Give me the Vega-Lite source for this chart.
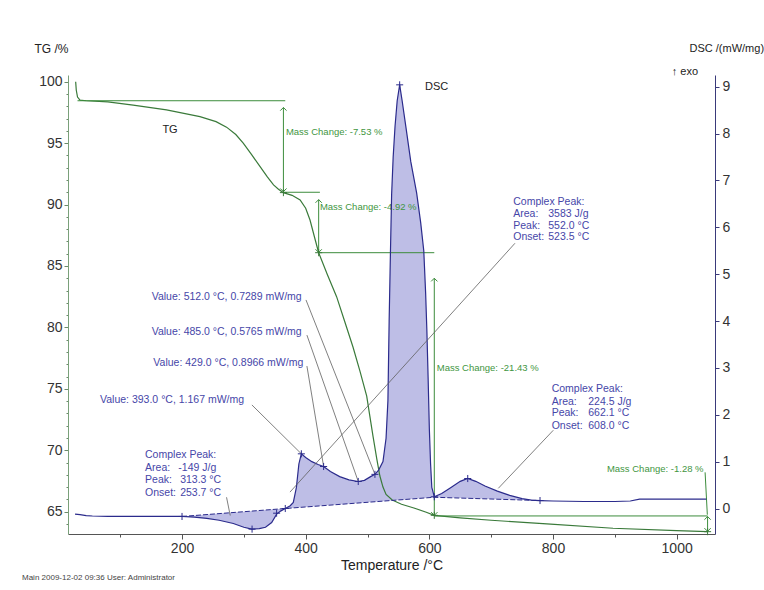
{
  "$schema": "https://vega.github.io/schema/vega-lite/v6.json",
  "width": 647,
  "height": 459,
  "autosize": {"type": "none"},
  "padding": {"left": 68, "top": 75, "right": 49, "bottom": 56},
  "background": "white",
  "config": {"font": "Liberation Sans", "view": {"stroke": null}, "axis": {"grid": false}},
  "title": {"text": "Main   2009-12-02 09:36   User: Administrator", "orient": "bottom", "anchor": "start", "frame": "group", "fontSize": 8, "fontWeight": "normal", "color": "#444", "dx": -46, "offset": 2},
  "datasets": {
    "tg": [
      {"T": 28, "v": 100.0}, {"T": 29, "v": 99.3}, {"T": 31, "v": 98.75}, {"T": 35, "v": 98.5}, {"T": 45, "v": 98.45},
      {"T": 80, "v": 98.35}, {"T": 121, "v": 98.1}, {"T": 175, "v": 97.7}, {"T": 229, "v": 97.15}, {"T": 255, "v": 96.75},
      {"T": 272, "v": 96.3}, {"T": 287, "v": 95.7}, {"T": 299, "v": 95.0}, {"T": 312, "v": 94.1}, {"T": 326, "v": 93.1},
      {"T": 338, "v": 92.25}, {"T": 348, "v": 91.6}, {"T": 356, "v": 91.25}, {"T": 364, "v": 90.97}, {"T": 378, "v": 90.75},
      {"T": 391, "v": 90.37}, {"T": 400, "v": 89.7}, {"T": 407, "v": 88.74}, {"T": 414, "v": 87.4}, {"T": 421, "v": 86.08},
      {"T": 435, "v": 84.3}, {"T": 450, "v": 82.5}, {"T": 463, "v": 80.5}, {"T": 476.5, "v": 78.4}, {"T": 488, "v": 76.4},
      {"T": 498.7, "v": 74.4}, {"T": 509, "v": 71.1}, {"T": 515, "v": 69.3}, {"T": 520, "v": 67.9}, {"T": 525, "v": 67.0},
      {"T": 530, "v": 66.4}, {"T": 540, "v": 65.95}, {"T": 555, "v": 65.6}, {"T": 575, "v": 65.3}, {"T": 595, "v": 64.95},
      {"T": 608, "v": 64.7}, {"T": 650, "v": 64.5}, {"T": 700, "v": 64.3}, {"T": 790, "v": 64.0}, {"T": 897, "v": 63.65},
      {"T": 1000, "v": 63.45}, {"T": 1050, "v": 63.37}
    ],
    "massLines": [
      {"T": 31, "T2": 367, "v": 98.45}, {"T": 363, "T2": 423, "v": 91.0},
      {"T": 421, "T2": 608, "v": 86.08}, {"T": 608, "T2": 1050, "v": 64.65}
    ],
    "massSeg": [
      {"T": 364, "T2": 364, "v": 97.9, "v2": 91.05}, {"T": 421, "T2": 421, "v": 90.4, "v2": 86.1},
      {"T": 608, "T2": 608, "v": 84.0, "v2": 64.7}, {"T": 1050, "T2": 1050, "v": 64.6, "v2": 63.4},
      {"T": 1046, "T2": 1049.6, "v": 68.2, "v2": 64.75}
    ],
    "heads": [
      {"T": 364, "v": 97.9, "dir": "up"}, {"T": 364, "v": 91.05, "dir": "down"},
      {"T": 421, "v": 90.4, "dir": "up"}, {"T": 421, "v": 86.1, "dir": "down"},
      {"T": 608, "v": 84.0, "dir": "up"}, {"T": 608, "v": 64.7, "dir": "down"},
      {"T": 1050, "v": 64.6, "dir": "up"}, {"T": 1050, "v": 63.4, "dir": "down"}
    ],
    "tgMarks": [{"T": 364, "v": 90.97}, {"T": 421, "v": 86.08}, {"T": 608, "v": 64.7}, {"T": 1050, "v": 63.37}],
    "massText": [
      {"T": 368, "v": 95.93, "label": "Mass Change: -7.53 %"},
      {"T": 423, "v": 89.83, "label": "Mass Change: -4.92 %"},
      {"T": 612, "v": 76.67, "label": "Mass Change: -21.43 %"}
    ],
    "massTextR": [{"T": 1043.5, "v": 68.45, "label": "Mass Change: -1.28 %"}],
    "tgLabel": [{"T": 180.6, "v": 96.07, "label": "TG"}],
    "dsc": [
      {"T": 27, "d": -0.12}, {"T": 35, "d": -0.13}, {"T": 45, "d": -0.15}, {"T": 55, "d": -0.16}, {"T": 80, "d": -0.17},
      {"T": 120, "d": -0.17}, {"T": 160, "d": -0.17},
      {"T": 200, "d": -0.17, "b": -0.17, "r": "endo"}, {"T": 220, "d": -0.185, "b": -0.15, "r": "endo"},
      {"T": 240, "d": -0.21, "b": -0.129, "r": "endo"}, {"T": 260, "d": -0.25, "b": -0.109, "r": "endo"},
      {"T": 283, "d": -0.32, "b": -0.085, "r": "endo"}, {"T": 300, "d": -0.4, "b": -0.068, "r": "endo"},
      {"T": 313, "d": -0.44, "b": -0.055, "r": "endo"}, {"T": 325, "d": -0.43, "b": -0.043, "r": "endo"},
      {"T": 335, "d": -0.4, "b": -0.033, "r": "endo"}, {"T": 345, "d": -0.3, "b": -0.022, "r": "endo"},
      {"T": 353, "d": -0.12, "b": -0.014, "r": "endo"}, {"T": 360, "d": -0.05, "b": -0.007, "r": "endo"},
      {"T": 367, "d": 0.0, "b": 0.0, "r": "endo"},
      {"T": 367, "d": 0.0, "b": 0.0, "r": "p1"}, {"T": 375, "d": 0.06, "b": 0.008, "r": "p1"},
      {"T": 380, "d": 0.13, "b": 0.013, "r": "p1"}, {"T": 385, "d": 0.45, "b": 0.018, "r": "p1"},
      {"T": 389, "d": 0.95, "b": 0.022, "r": "p1"}, {"T": 393, "d": 1.167, "b": 0.026, "r": "p1"},
      {"T": 400, "d": 1.09, "b": 0.033, "r": "p1"}, {"T": 410, "d": 1.0, "b": 0.043, "r": "p1"},
      {"T": 420, "d": 0.94, "b": 0.053, "r": "p1"}, {"T": 429, "d": 0.8966, "b": 0.062, "r": "p1"},
      {"T": 440, "d": 0.79, "b": 0.073, "r": "p1"}, {"T": 455, "d": 0.68, "b": 0.088, "r": "p1"},
      {"T": 470, "d": 0.61, "b": 0.102, "r": "p1"}, {"T": 485, "d": 0.5765, "b": 0.117, "r": "p1"},
      {"T": 495, "d": 0.6, "b": 0.127, "r": "p1"}, {"T": 505, "d": 0.68, "b": 0.137, "r": "p1"},
      {"T": 512, "d": 0.7289, "b": 0.144, "r": "p1"}, {"T": 518, "d": 0.82, "b": 0.15, "r": "p1"},
      {"T": 525, "d": 1.0, "b": 0.157, "r": "p1"}, {"T": 530, "d": 1.5, "b": 0.162, "r": "p1"},
      {"T": 533, "d": 2.3, "b": 0.165, "r": "p1"}, {"T": 535, "d": 4.0, "b": 0.167, "r": "p1"},
      {"T": 537, "d": 5.4, "b": 0.169, "r": "p1"}, {"T": 539, "d": 6.7, "b": 0.171, "r": "p1"},
      {"T": 541.5, "d": 7.5, "b": 0.173, "r": "p1"}, {"T": 544.5, "d": 8.15, "b": 0.176, "r": "p1"},
      {"T": 548, "d": 8.7, "b": 0.18, "r": "p1"}, {"T": 552, "d": 9.04, "b": 0.184, "r": "p1"},
      {"T": 556, "d": 8.7, "b": 0.188, "r": "p1"}, {"T": 562, "d": 8.15, "b": 0.194, "r": "p1"},
      {"T": 570, "d": 7.4, "b": 0.202, "r": "p1"}, {"T": 579.5, "d": 6.73, "b": 0.211, "r": "p1"},
      {"T": 586, "d": 6.1, "b": 0.218, "r": "p1"}, {"T": 591, "d": 5.5, "b": 0.223, "r": "p1"},
      {"T": 594, "d": 4.6, "b": 0.226, "r": "p1"}, {"T": 596, "d": 3.8, "b": 0.228, "r": "p1"},
      {"T": 598, "d": 2.8, "b": 0.23, "r": "p1"}, {"T": 600, "d": 1.7, "b": 0.232, "r": "p1"},
      {"T": 602, "d": 0.95, "b": 0.234, "r": "p1"}, {"T": 604, "d": 0.45, "b": 0.236, "r": "p1"},
      {"T": 608, "d": 0.25, "b": 0.24, "r": "p1"},
      {"T": 608, "d": 0.25, "b": 0.24, "r": "p2"}, {"T": 620, "d": 0.32, "b": 0.235, "r": "p2"},
      {"T": 635, "d": 0.45, "b": 0.229, "r": "p2"}, {"T": 650, "d": 0.58, "b": 0.223, "r": "p2"},
      {"T": 662, "d": 0.64, "b": 0.218, "r": "p2"}, {"T": 675, "d": 0.58, "b": 0.212, "r": "p2"},
      {"T": 690, "d": 0.48, "b": 0.206, "r": "p2"}, {"T": 710, "d": 0.37, "b": 0.198, "r": "p2"},
      {"T": 730, "d": 0.28, "b": 0.19, "r": "p2"}, {"T": 750, "d": 0.21, "b": 0.182, "r": "p2"},
      {"T": 765, "d": 0.18, "b": 0.176, "r": "p2"}, {"T": 779, "d": 0.17, "b": 0.17, "r": "p2"},
      {"T": 800, "d": 0.16}, {"T": 850, "d": 0.15}, {"T": 900, "d": 0.15}, {"T": 925, "d": 0.16},
      {"T": 940, "d": 0.2}, {"T": 1000, "d": 0.2}, {"T": 1048, "d": 0.2}
    ],
    "baseline": [{"T": 200, "d": -0.17}, {"T": 367, "d": 0.0}, {"T": 608, "d": 0.24}, {"T": 779, "d": 0.17}],
    "dscMarks": [
      {"T": 200, "d": -0.17}, {"T": 313.3, "d": -0.44}, {"T": 353, "d": -0.1}, {"T": 367, "d": 0.0},
      {"T": 393, "d": 1.167}, {"T": 429, "d": 0.8966}, {"T": 485, "d": 0.5765}, {"T": 512, "d": 0.7289},
      {"T": 552, "d": 9.04}, {"T": 608, "d": 0.25}, {"T": 662.1, "d": 0.64}, {"T": 779, "d": 0.17}
    ],
    "leaders": [
      {"T": 400.5, "d": 4.45, "T2": 512, "d2": 0.7289},
      {"T": 402, "d": 3.7, "T2": 485, "d2": 0.5765},
      {"T": 402, "d": 3.04, "T2": 429, "d2": 0.8966},
      {"T": 313, "d": 2.21, "T2": 393, "d2": 1.167},
      {"T": 272, "d": 0.24, "T2": 278, "d2": -0.15},
      {"T": 738.5, "d": 5.66, "T2": 374.6, "d2": 0.35},
      {"T": 800.5, "d": 1.67, "T2": 711.5, "d2": 0.43}
    ],
    "dscText": [
      {"T": 151, "d": 4.51, "label": "Value: 512.0 °C, 0.7289 mW/mg"},
      {"T": 151, "d": 3.76, "label": "Value: 485.0 °C, 0.5765 mW/mg"},
      {"T": 153.6, "d": 3.1, "label": "Value: 429.0 °C, 0.8966 mW/mg"},
      {"T": 67.4, "d": 2.31, "label": "Value: 393.0 °C, 1.167 mW/mg"},
      {"T": 140.2, "d": 1.14, "label": "Complex Peak:"},
      {"T": 140.2, "d": 0.858, "label": "Area:"},
      {"T": 140.2, "d": 0.608, "label": "Peak:"},
      {"T": 140.2, "d": 0.337, "label": "Onset:"},
      {"T": 194, "d": 0.858, "label": "-149 J/g"},
      {"T": 197, "d": 0.608, "label": "313.3 °C"},
      {"T": 197, "d": 0.337, "label": "253.7 °C"},
      {"T": 735.7, "d": 6.55, "label": "Complex Peak:"},
      {"T": 735.7, "d": 6.28, "label": "Area:"},
      {"T": 735.7, "d": 6.03, "label": "Peak:"},
      {"T": 735.7, "d": 5.79, "label": "Onset:"},
      {"T": 792.3, "d": 6.28, "label": "3583 J/g"},
      {"T": 792.3, "d": 6.03, "label": "552.0 °C"},
      {"T": 792.3, "d": 5.79, "label": "523.5 °C"},
      {"T": 797.8, "d": 2.54, "label": "Complex Peak:"},
      {"T": 797.8, "d": 2.28, "label": "Area:"},
      {"T": 797.8, "d": 2.03, "label": "Peak:"},
      {"T": 797.8, "d": 1.77, "label": "Onset:"},
      {"T": 857, "d": 2.28, "label": "224.5 J/g"},
      {"T": 857, "d": 2.03, "label": "662.1 °C"},
      {"T": 857, "d": 1.77, "label": "608.0 °C"}
    ],
    "dscLabel": [{"T": 593, "d": 9.0, "label": "DSC"}, {"T": 992, "d": 9.31, "label": "↑ exo"}]
  },
  "encoding": {
    "x": {"field": "T", "type": "quantitative", "scale": {"domain": [15.6, 1062], "nice": false, "zero": false},
      "axis": {"values": [100, 200, 300, 400, 500, 600, 700, 800, 900, 1000], "format": "d",
        "labelExpr": "datum.value % 200 === 0 ? datum.label : ''",
        "tickSize": {"condition": {"test": "datum.value % 200 === 0", "value": 5}, "value": 3},
        "title": "Temperature /°C", "titleFontSize": 14, "titleFontWeight": "normal", "titleColor": "#222",
        "labelFontSize": 14, "labelColor": "#333", "domainColor": "#555", "tickColor": "#555",
        "labelPadding": 2, "titlePadding": 3, "labelFlush": false, "labelOverlap": false}}
  },
  "resolve": {"scale": {"y": "independent"}},
  "layer": [
    {
      "data": {"name": "dsc"},
      "transform": [{"filter": "isValid(datum.b)"}],
      "mark": {"type": "area", "color": "#b3b3e2", "opacity": 0.85},
      "encoding": {
        "y": {"field": "d", "type": "quantitative", "scale": {"domain": [-0.544, 9.25], "nice": false, "zero": false}, "axis": null},
        "y2": {"field": "b"},
        "detail": {"field": "r"}
      }
    },
    {
      "encoding": {
        "y": {"field": "v", "type": "quantitative", "scale": {"domain": [63.18, 100.545], "nice": false, "zero": false},
          "axis": {"orient": "left", "values": [64, 65, 66, 67, 68, 69, 70, 71, 72, 73, 74, 75, 76, 77, 78, 79, 80, 81, 82, 83, 84, 85, 86, 87, 88, 89, 90, 91, 92, 93, 94, 95, 96, 97, 98, 99, 100],
            "labelExpr": "datum.value % 5 === 0 ? datum.label : ''",
            "tickSize": {"condition": {"test": "datum.value % 5 === 0", "value": 4}, "value": 2},
            "title": "TG /%", "titleAngle": 0, "titleX": -17, "titleY": -27, "titleAlign": "center", "titleBaseline": "middle",
            "titleFontSize": 12, "titleFontWeight": "normal", "titleColor": "#222",
            "labelFontSize": 14, "labelColor": "#333", "domainColor": "#7aa07a", "tickColor": "#6a8a6a",
            "labelPadding": 2, "labelOverlap": false}}
      },
      "layer": [
        {
          "data": {"name": "tg"},
          "mark": {"type": "line", "color": "#3a7a3a", "strokeWidth": 1.2}
        },
        {
          "data": {"name": "massLines"},
          "mark": {"type": "rule", "color": "#3c8c3c", "strokeWidth": 1},
          "encoding": {"x2": {"field": "T2"}}
        },
        {
          "data": {"name": "massSeg"},
          "mark": {"type": "rule", "color": "#3c8c3c", "strokeWidth": 1},
          "encoding": {"x2": {"field": "T2"}, "y2": {"field": "v2"}}
        },
        {
          "data": {"name": "heads"},
          "mark": {"type": "point", "filled": false, "color": "#3c8c3c", "strokeWidth": 1, "size": 40, "opacity": 1},
          "encoding": {
            "shape": {"field": "dir", "type": "nominal", "scale": {"domain": ["up", "down"], "range": ["M-1,1L0,0L1,1", "M-1,-1L0,0L1,-1"]}, "legend": null}
          }
        },
        {
          "data": {"name": "tgMarks"},
          "mark": {"type": "point", "filled": false, "color": "#3a7a3a", "strokeWidth": 1, "size": 50, "opacity": 1, "shape": "M-1,0L1,0M0,-1L0,1"}
        },
        {
          "data": {"name": "massText"},
          "mark": {"type": "text", "align": "left", "baseline": "middle", "fontSize": 9.5, "color": "#3f963f"},
          "encoding": {"text": {"field": "label"}}
        },
        {
          "data": {"name": "massTextR"},
          "mark": {"type": "text", "align": "right", "baseline": "middle", "fontSize": 9.5, "color": "#3f963f"},
          "encoding": {"text": {"field": "label"}}
        },
        {
          "data": {"name": "tgLabel"},
          "mark": {"type": "text", "align": "center", "baseline": "middle", "fontSize": 11, "color": "#222"},
          "encoding": {"text": {"field": "label"}}
        }
      ]
    },
    {
      "encoding": {
        "y": {"field": "d", "type": "quantitative", "scale": {"domain": [-0.544, 9.25], "nice": false, "zero": false},
          "axis": {"orient": "right", "values": [0, 1, 2, 3, 4, 5, 6, 7, 8, 9],
            "tickSize": 4, "title": "DSC /(mW/mg)", "titleAngle": 0, "titleX": -26, "titleY": -27,
            "titleAlign": "left", "titleBaseline": "middle", "titleFontSize": 11, "titleFontWeight": "normal", "titleColor": "#222",
            "labelFontSize": 14, "labelColor": "#333", "domainColor": "#3a3a7a", "tickColor": "#3a3a7a",
            "labelPadding": 3, "labelOverlap": false}}
      },
      "layer": [
        {
          "data": {"name": "baseline"},
          "mark": {"type": "line", "color": "#2b2b8c", "strokeWidth": 1, "strokeDash": [5, 2]}
        },
        {
          "data": {"name": "dsc"},
          "mark": {"type": "line", "color": "#2b2b8c", "strokeWidth": 1.2}
        },
        {
          "data": {"name": "leaders"},
          "mark": {"type": "rule", "color": "#606060", "strokeWidth": 0.8},
          "encoding": {"x2": {"field": "T2"}, "y2": {"field": "d2"}}
        },
        {
          "data": {"name": "dscMarks"},
          "mark": {"type": "point", "filled": false, "color": "#2b2b8c", "strokeWidth": 1, "size": 50, "opacity": 1, "shape": "M-1,0L1,0M0,-1L0,1"}
        },
        {
          "data": {"name": "dscText"},
          "mark": {"type": "text", "align": "left", "baseline": "middle", "fontSize": 10.5, "color": "#4646a8"},
          "encoding": {"text": {"field": "label"}}
        },
        {
          "data": {"name": "dscLabel"},
          "mark": {"type": "text", "align": "left", "baseline": "middle", "fontSize": 11, "color": "#222"},
          "encoding": {"text": {"field": "label"}}
        }
      ]
    }
  ]
}
